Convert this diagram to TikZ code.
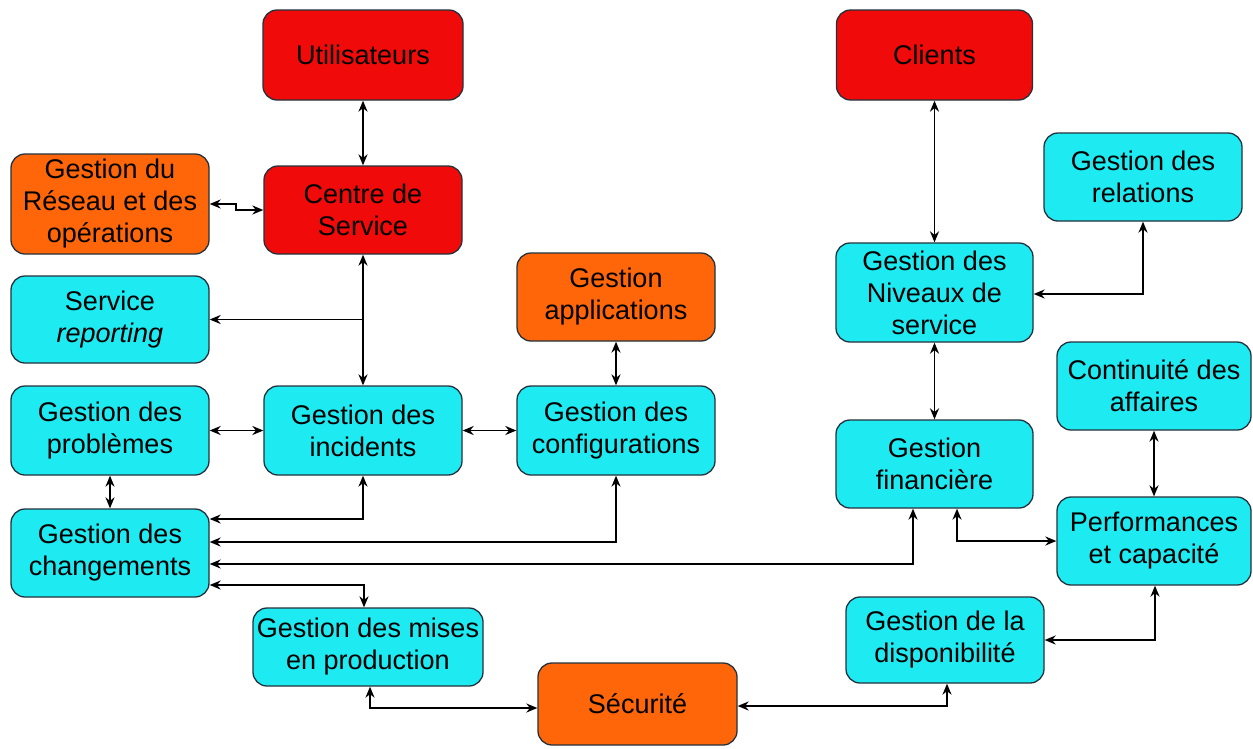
\documentclass[tikz,border=0pt]{standalone}
\usepackage{fontspec}
\setmainfont{Liberation Sans}
\usetikzlibrary{arrows.meta,calc}
\definecolor{boxcyan}{RGB}{30,234,242}
\definecolor{boxred}{RGB}{240,10,10}
\definecolor{boxorange}{RGB}{255,102,10}
\definecolor{edgecol}{RGB}{35,50,60}
\begin{document}
\begin{tikzpicture}[x=1pt,y=-1pt,
  box/.style={draw=edgecol, line width=1.3pt, rounded corners=14pt, align=center,
    font=\fontsize{27}{32}\selectfont, inner sep=0pt},
  cy/.style={box, fill=boxcyan},
  rd/.style={box, fill=boxred},
  og/.style={box, fill=boxorange},
  conn/.style={line width=1.8pt, {Stealth[length=11pt,width=9pt]}-{Stealth[length=11pt,width=9pt]}},
  conn1/.style={line width=1.8pt, -{Stealth[length=11pt,width=9pt]}}]
\useasboundingbox (0,0) rectangle (1253,748);
\fill[white] (0,0) rectangle (1253,748);
% nodes
\node[rd, minimum width=200pt, minimum height=90pt] (ut) at (363,55) {Utilisateurs};
\node[rd, minimum width=196pt, minimum height=90pt] (cl) at (934.5,55) {Clients};
\node[og, minimum width=198pt, minimum height=100pt] (res) at (110,204) {Gestion du\\Réseau et des\\opérations};
\node[rd, minimum width=198pt, minimum height=88pt] (cs) at (363,210) {Centre de\\Service};
\node[cy, minimum width=198pt, minimum height=87pt] (rep) at (110,319.5) {Service\\\textit{reporting}};
\node[og, minimum width=198pt, minimum height=88pt] (app) at (616,297) {Gestion\\applications};
\node[cy, minimum width=198pt, minimum height=88pt] (rel) at (1143,177) {Gestion des\\relations};
\node[cy, minimum width=197pt, minimum height=99pt] (niv) at (934.5,292.5) {Gestion des\\Niveaux de\\service};
\node[cy, minimum width=198pt, minimum height=89pt] (pro) at (110,430.5) {Gestion des\\problèmes};
\node[cy, minimum width=198pt, minimum height=89pt] (inc) at (363,430.5) {Gestion des\\incidents};
\node[cy, minimum width=198pt, minimum height=89pt] (cfg) at (616,430.5) {Gestion des\\configurations};
\node[cy, minimum width=197pt, minimum height=88pt] (fin) at (934.5,464) {Gestion\\financière};
\node[cy, minimum width=194pt, minimum height=88pt] (con) at (1154,386) {Continuité des\\affaires};
\node[cy, minimum width=198pt, minimum height=88pt] (chg) at (110,553) {Gestion des\\changements};
\node[cy, minimum width=194pt, minimum height=88pt] (perf) at (1154,541) {Performances\\et capacité};
\node[cy, minimum width=230pt, minimum height=78pt] (mep) at (368,647) {Gestion des mises\\en production};
\node[cy, minimum width=198pt, minimum height=86pt] (dis) at (945,640) {Gestion de la\\disponibilité};
\node[og, minimum width=199pt, minimum height=82pt] (sec) at (637.5,704) {Sécurité};
% connectors
\draw[conn] (ut) -- (cs);
\draw[conn] (res.east) -- ++(26,0) |- (cs.west);
\draw[conn] (cs) -- (inc);
\draw[conn1] (cs.south |- rep.east) -- (rep.east);
\draw[conn] (pro) -- (inc);
\draw[conn] (inc) -- (cfg);
\draw[conn] (app) -- (cfg);
\draw[conn] (pro) -- (chg);
\draw[conn] (inc.south) |- ($(chg.east)+(0,-34)$);
\draw[conn] (cfg.south) |- ($(chg.east)+(0,-11)$);
\draw[conn] ($(fin.south)+(-21.5,0)$) |- ($(chg.east)+(0,11)$);
\draw[conn] ($(chg.east)+(0,32)$) -| ($(mep.north)+(-4,0)$);
\draw[conn] ($(mep.south)+(2,0)$) |- ($(sec.west)+(0,4)$);
\draw[conn] ($(sec.east)+(0,2)$) -| ($(dis.south)+(2,0)$);
\draw[conn] (dis.east) -| ($(perf.south)+(1,0)$);
\draw[conn] ($(fin.south)+(22.5,0)$) |- (perf.west);
\draw[conn] (con) -- (perf);
\draw[conn] (cl) -- (niv);
\draw[conn] (niv) -- (fin);
\draw[conn] ($(niv.east)+(0,1.5)$) -| (rel.south);
\end{tikzpicture}
\end{document}
